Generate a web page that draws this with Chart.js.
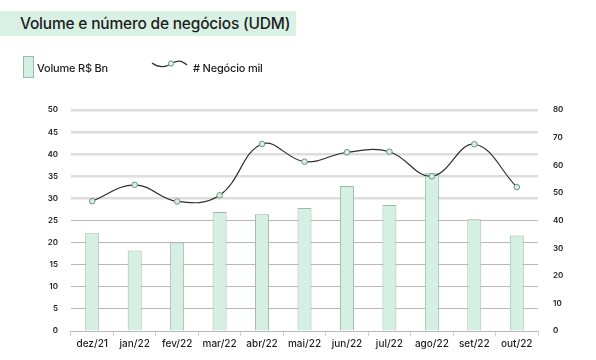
<!DOCTYPE html>
<html>
<head>
<meta charset="utf-8">
<script src="https://cdn.jsdelivr.net/npm/chart.js@4"></script>
<style>
  html, body { margin: 0; padding: 0; background: #fff; }
  #wrap { position: relative; width: 596px; height: 360px; overflow: hidden; font-family: Inter, "Liberation Sans", sans-serif; }
  #chart { position: absolute; left: 0; top: 0; }
  .title { position: absolute; left: 0; top: 11px; width: 296px; height: 25px; background: #d9f1e5; }
  .title span { position: absolute; left: 20px; top: 3px; font-size: 15.5px; font-weight: 500; color: #1d1d1d; letter-spacing: -0.2px; white-space: nowrap; }
  .leg { position: absolute; font-size: 11px; font-weight: 500; color: #1d1d1d; white-space: nowrap; letter-spacing: -0.2px; }
  .box { position: absolute; left: 23px; top: 56px; width: 9px; height: 20px; background: #d5f0e2; border: 1px solid #9bbaa8; }
</style>
</head>
<body>
<div id="wrap">
  <canvas id="chart" width="596" height="360"></canvas>
  <div class="title"><span>Volume e número de negócios (UDM)</span></div>
  <div class="box"></div>
  <div class="leg" style="left:37px; top:61px;">Volume R$ Bn</div>
  <svg style="position:absolute; left:150px; top:56px;" width="40" height="16">
    <path d="M2 7 C 10 13, 16 11, 21 8 C 27 4, 31 4, 37 9" fill="none" stroke="#333" stroke-width="1.2"/>
    <circle cx="21" cy="7.5" r="2.6" fill="#d5f0e2" stroke="#6f9480" stroke-width="1"/>
  </svg>
  <div class="leg" style="left:193px; top:61px;">#&nbsp;Negócio mil</div>
</div>
<script>
var labels = ["dez/21", "jan/22", "fev/22", "mar/22", "abr/22", "mai/22", "jun/22", "jul/22", "ago/22", "set/22", "out/22"];
// Volume R$ Bn (left axis)
var volume = [22.1, 18.2, 20.0, 26.9, 26.4, 27.8, 32.8, 28.5, 35.8, 25.3, 21.6];
// # Negocio mil (right axis)
var negocios = [47.0, 52.9, 46.9, 49.1, 67.7, 61.3, 64.7, 64.9, 56.0, 67.6, 52.1];

var tickFont = { family: "Inter, 'Liberation Sans', sans-serif", size: 8, weight: "600" };

var config = {
    type: 'bar',
    data: {
        labels: labels,
        datasets: [{
            type: 'line',
            label: '# Negócio mil',
            data: negocios,
            yAxisID: 'y1',
            borderColor: '#2e2e2e',
            borderWidth: 1.2,
            tension: 0.4,
            pointRadius: 2.8,
            pointBackgroundColor: '#d5f0e2',
            pointBorderColor: '#6f9480',
            pointBorderWidth: 1,
            fill: false,
            order: 1
        }, {
            label: 'Volume R$ Bn',
            data: volume,
            yAxisID: 'y',
            backgroundColor: '#d5f0e2',
            borderColor: '#9bbaa8',
            borderWidth: 1,
            categoryPercentage: 1,
            barPercentage: 0.33,
            order: 2
        }]
    },
    options: {
        responsive: false,
        animation: false,
        layout: { padding: { top: 110, bottom: 8, left: 0, right: 0 } },
        plugins: {
            legend: { display: false },
            title: { display: false },
            tooltip: { enabled: false }
        },
        scales: {
            x: {
                grid: { drawOnChartArea: false, drawTicks: true, tickLength: 5, color: '#cfcfcf', offset: true },
                border: { display: false },
                ticks: { color: '#1d1d1d', font: { family: "Inter, 'Liberation Sans', sans-serif", size: 10, weight: "500" }, padding: 2, maxRotation: 0 }
            },
            y: {
                position: 'left',
                min: 0, max: 50,
                afterFit: function (scale) { scale.width = 71; },
                grid: {
                    drawTicks: false,
                    color: function (ctx) { return ctx.tick && ctx.tick.value >= 30 ? '#dddddd' : '#b8b8b8'; },
                    lineWidth: function (ctx) { return ctx.tick && ctx.tick.value >= 30 ? 2.5 : 1; }
                },
                border: { display: false },
                ticks: { stepSize: 5, color: '#222', font: tickFont, padding: 13 }
            },
            y1: {
                position: 'right',
                min: 0, max: 80,
                afterFit: function (scale) { scale.width = 58; },
                grid: { display: false, drawTicks: false },
                border: { display: false },
                ticks: { stepSize: 10, color: '#222', font: tickFont, padding: 15 }
            }
        }
    }
};

var ctx = document.getElementById("chart").getContext("2d");
var myChart = new Chart(ctx, config);
</script>
</body>
</html>
